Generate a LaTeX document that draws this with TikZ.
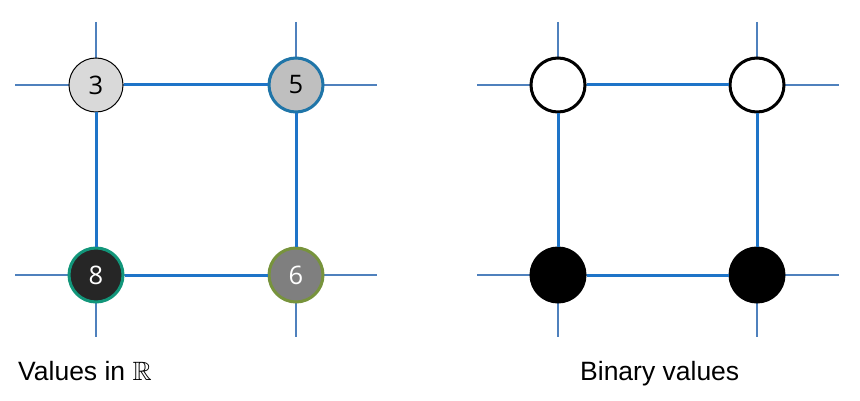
\documentclass[tikz,border=0pt]{standalone}
\usepackage{amssymb}
\usepackage{fontspec}
\setmainfont{Liberation Sans}
\newfontfamily\digitfont{Open Sans}
\definecolor{thinblue}{HTML}{4F81BD}
\definecolor{thickblue}{HTML}{1E74C8}
\definecolor{bord5}{HTML}{1F75A8}
\definecolor{bord8}{HTML}{12967A}
\definecolor{bord6}{HTML}{77933C}
\tikzset{
  thinline/.style={draw=thinblue, line width=1.1pt},
  edgeline/.style={draw=thickblue, line width=3pt},
  vnode/.style={circle, minimum size=54pt, inner sep=0pt, font=\digitfont\fontsize{25.5}{26}\selectfont},
  lbl/.style={anchor=base west, inner sep=0pt, font=\fontsize{26.5}{30}\selectfont},
}
\begin{document}
\begin{tikzpicture}[x=1pt,y=-1pt]
\useasboundingbox[fill=white] (0,0) rectangle (860,401);
% left grid lines
\foreach \yy in {85,275} \draw[thinline] (15,\yy) -- (377,\yy);
\foreach \xx in {96,296} \draw[thinline] (\xx,22) -- (\xx,337);
% right grid lines
\foreach \yy in {85,275} \draw[thinline] (477,\yy) -- (839,\yy);
\foreach \xx in {558,757} \draw[thinline] (\xx,22) -- (\xx,337);
% left nodes
\node[vnode, fill={rgb,255:red,217;green,217;blue,217}, draw=black, line width=1pt] (a) at (96,85) {3};
\node[vnode, fill={rgb,255:red,191;green,191;blue,191}, draw=bord5, line width=3pt] (b) at (296,85) {5};
\node[vnode, fill={rgb,255:red,38;green,38;blue,38}, draw=bord8, line width=3pt, text=white] (c) at (96,275) {8};
\node[vnode, fill={rgb,255:red,127;green,127;blue,127}, draw=bord6, line width=3pt, text=white] (d) at (296,275) {6};
\draw[edgeline] (a) -- (b);
\draw[edgeline] (b) -- (d);
\draw[edgeline] (d) -- (c);
\draw[edgeline] (c) -- (a);
% right nodes
\node[vnode, fill=white, draw=black, line width=3pt] (e) at (558,85) {};
\node[vnode, fill=white, draw=black, line width=3pt] (f) at (757,85) {};
\node[vnode, fill=black, draw=black, line width=3pt] (g) at (558,275) {};
\node[vnode, fill=black, draw=black, line width=3pt] (h) at (757,275) {};
\draw[edgeline] (e) -- (f);
\draw[edgeline] (f) -- (h);
\draw[edgeline] (h) -- (g);
\draw[edgeline] (g) -- (e);
% labels
\node[lbl] (l1) at (18,380) {Values in $\mathbb{R}$};
\node[lbl] (l2) at (580,380) {Binary values};
\end{tikzpicture}
\end{document}
